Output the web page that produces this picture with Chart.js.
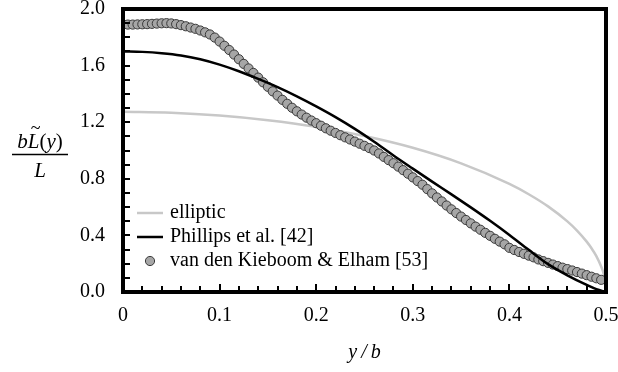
<!DOCTYPE html>
<html>
<head>
<meta charset="utf-8">
<script src="https://cdn.jsdelivr.net/npm/chart.js@4.4.0/dist/chart.umd.min.js"></script>
<style>
body { margin: 0; background: #fff; }
</style>
</head>
<body>
<canvas id="myChart" width="618" height="372"></canvas>
<script>
// spanwise position y/b and load values
let ellipticX = [0, 0.05, 0.1, 0.15, 0.2, 0.25, 0.3, 0.35, 0.4, 0.42, 0.44, 0.46, 0.47, 0.48, 0.485, 0.49, 0.495, 0.498, 0.5];
let ellipticY = [1.273, 1.267, 1.247, 1.214, 1.167, 1.102, 1.019, 0.909, 0.764, 0.691, 0.605, 0.499, 0.434, 0.356, 0.309, 0.254, 0.180, 0.114, 0];

let phillipsX = [0, 0.02, 0.04, 0.06, 0.08, 0.1, 0.12, 0.14, 0.16, 0.18, 0.2, 0.22, 0.24, 0.26, 0.28, 0.3, 0.32, 0.34, 0.36, 0.38, 0.4, 0.42, 0.44, 0.46, 0.48, 0.49, 0.5];
let phillipsY = [1.700, 1.697, 1.688, 1.672, 1.645, 1.607, 1.560, 1.506, 1.448, 1.383, 1.312, 1.236, 1.153, 1.062, 0.965, 0.872, 0.780, 0.690, 0.598, 0.503, 0.403, 0.298, 0.197, 0.118, 0.050, 0.020, 0];

let kieboomX = [0, 0.005, 0.01, 0.015, 0.02, 0.025, 0.03, 0.035, 0.04, 0.045, 0.05, 0.055, 0.06, 0.065, 0.07, 0.075, 0.08, 0.085, 0.09, 0.095,
  0.1, 0.105, 0.11, 0.115, 0.12, 0.125, 0.13, 0.135, 0.14, 0.145, 0.15, 0.155, 0.16, 0.165, 0.17, 0.175, 0.18, 0.185, 0.19, 0.195,
  0.2, 0.205, 0.21, 0.215, 0.22, 0.225, 0.23, 0.235, 0.24, 0.245, 0.25, 0.255, 0.26, 0.265, 0.27, 0.275, 0.28, 0.285, 0.29, 0.295,
  0.3, 0.305, 0.31, 0.315, 0.32, 0.325, 0.33, 0.335, 0.34, 0.345, 0.35, 0.355, 0.36, 0.365, 0.37, 0.375, 0.38, 0.385, 0.39, 0.395,
  0.4, 0.405, 0.41, 0.415, 0.42, 0.425, 0.43, 0.435, 0.44, 0.445, 0.45, 0.455, 0.46, 0.465, 0.47, 0.475, 0.48, 0.485, 0.49, 0.495];
let kieboomY = [1.890, 1.890, 1.890, 1.891, 1.892, 1.893, 1.895, 1.897, 1.899, 1.900, 1.898, 1.893, 1.886, 1.878, 1.869, 1.860, 1.848, 1.835, 1.820, 1.798,
  1.770, 1.740, 1.710, 1.678, 1.645, 1.612, 1.580, 1.548, 1.515, 1.482, 1.450, 1.418, 1.388, 1.358, 1.330, 1.302, 1.277, 1.254, 1.232, 1.212,
  1.193, 1.175, 1.157, 1.140, 1.124, 1.108, 1.093, 1.078, 1.063, 1.048, 1.033, 1.017, 1.000, 0.979, 0.955, 0.932, 0.910, 0.886, 0.861, 0.836,
  0.810, 0.784, 0.758, 0.727, 0.697, 0.668, 0.640, 0.611, 0.584, 0.558, 0.533, 0.509, 0.485, 0.462, 0.440, 0.418, 0.397, 0.376, 0.356, 0.337,
  0.312, 0.297, 0.283, 0.270, 0.257, 0.245, 0.230, 0.218, 0.206, 0.194, 0.183, 0.172, 0.162, 0.152, 0.141, 0.130, 0.119, 0.108, 0.097, 0.086];

let seriesNames = ["elliptic", "Phillips et al. [42]", "van den Kieboom & Elham [53]"];
let xTicks = [0, 0.1, 0.2, 0.3, 0.4, 0.5];
let yTicks = [0, 0.4, 0.8, 1.2, 1.6, 2.0];

const serif = '"Liberation Serif", "Times New Roman", serif';
const markerFill = '#a6a6a6';
const markerEdge = '#3a3a3a';

function pts(xs, ys) {
    return xs.map((x, i) => ({ x: x, y: ys[i] }));
}

// frame and inward ticks, drawn over the data like in the figure
const framePlugin = {
    id: 'frame',
    afterDatasetsDraw(chart) {
        const ctx = chart.ctx;
        const a = chart.chartArea;
        const xs = chart.scales.x, ys = chart.scales.y;
        ctx.save();
        ctx.strokeStyle = '#000';
        ctx.lineWidth = 2;
        ctx.beginPath();
        for (let i = 0; i <= 20; i++) {
            const py = Math.round(ys.getPixelForValue(i / 10));
            ctx.moveTo(a.left, py);
            ctx.lineTo(a.left + 7, py);
        }
        for (let i = 0; i <= 25; i++) {
            const px = Math.round(xs.getPixelForValue(i / 50));
            ctx.moveTo(px, a.bottom);
            ctx.lineTo(px, a.bottom - (i % 5 === 0 ? 8 : 6));
        }
        ctx.stroke();
        ctx.lineWidth = 4;
        ctx.strokeRect(a.left, a.top, a.right - a.left, a.bottom - a.top);
        ctx.restore();
    },
    afterDraw(chart) {
        const ctx = chart.ctx;
        const a = chart.chartArea;
        const ds = chart.data.datasets;
        ctx.save();
        // legend inside the plot, lower left
        ctx.font = '20px ' + serif;
        ctx.textBaseline = 'middle';
        ctx.fillStyle = '#000';
        const rows = [a.bottom - 79, a.bottom - 55, a.bottom - 31];
        const x0 = a.left + 14, x1 = a.left + 40, tx = a.left + 47;
        for (let i = 0; i < 3; i++) {
            const d = ds[i];
            if (d.showLine === false) {
                ctx.beginPath();
                ctx.arc((x0 + x1) / 2, rows[i], d.pointRadius, 0, Math.PI * 2);
                ctx.fillStyle = d.pointBackgroundColor;
                ctx.fill();
                ctx.lineWidth = d.pointBorderWidth;
                ctx.strokeStyle = d.pointBorderColor;
                ctx.stroke();
            } else {
                ctx.beginPath();
                ctx.moveTo(x0, rows[i]);
                ctx.lineTo(x1, rows[i]);
                ctx.lineWidth = d.borderWidth;
                ctx.strokeStyle = d.borderColor;
                ctx.stroke();
            }
            ctx.fillStyle = '#000';
            ctx.fillText(d.label, tx, rows[i]);
        }
        // y title as a fraction  b L~(y) / L
        const cx = 40, base = 148;
        const parts = [['b', 'italic '], ['L', 'italic '], ['(', ''], ['y', 'italic '], [')', '']];
        let w = 0;
        parts.forEach(p => { ctx.font = p[1] + '21px ' + serif; w += ctx.measureText(p[0]).width; });
        let x = cx - w / 2;
        ctx.textBaseline = 'alphabetic';
        ctx.textAlign = 'left';
        parts.forEach(p => {
            ctx.font = p[1] + '21px ' + serif;
            const pw = ctx.measureText(p[0]).width;
            ctx.fillText(p[0], x, base);
            if (p[0] === 'L') {
                ctx.font = '18px ' + serif;
                ctx.textAlign = 'center';
                ctx.fillText('~', x + pw / 2 + 2, base - 14);
                ctx.textAlign = 'left';
            }
            x += pw;
        });
        ctx.beginPath();
        ctx.moveTo(12, 154.5);
        ctx.lineTo(68, 154.5);
        ctx.lineWidth = 1.5;
        ctx.strokeStyle = '#000';
        ctx.stroke();
        ctx.font = 'italic 21px ' + serif;
        ctx.textAlign = 'center';
        ctx.fillText('L', cx, 177);
        ctx.restore();
    }
};

const ctx = document.getElementById('myChart').getContext('2d');
const myChart = new Chart(ctx, {
    type: 'scatter',
    data: {
        datasets: [{
            label: seriesNames[0],
            data: pts(ellipticX, ellipticY),
            showLine: true,
            borderColor: '#c8c8c8',
            borderWidth: 2.5,
            pointRadius: 0,
            cubicInterpolationMode: 'monotone',
            order: 3
        }, {
            label: seriesNames[1],
            data: pts(phillipsX, phillipsY),
            showLine: true,
            borderColor: '#000000',
            borderWidth: 2.5,
            pointRadius: 0,
            cubicInterpolationMode: 'monotone',
            order: 1
        }, {
            label: seriesNames[2],
            data: pts(kieboomX, kieboomY),
            showLine: false,
            pointRadius: 4.6,
            pointBackgroundColor: markerFill,
            pointBorderColor: markerEdge,
            pointBorderWidth: 1,
            order: 2
        }]
    },
    options: {
        responsive: false,
        animation: false,
        devicePixelRatio: 1,
        events: [],
        plugins: { legend: { display: false }, tooltip: { enabled: false } },
        scales: {
            x: {
                type: 'linear',
                min: 0,
                max: 0.5,
                afterBuildTicks: s => { s.ticks = xTicks.map(v => ({ value: v })); },
                afterFit: s => { s.height = 80; s.paddingLeft = 0; s.paddingRight = 12; },
                ticks: {
                    padding: 12,
                    color: '#000',
                    font: { family: serif, size: 20 },
                    callback: v => v === 0 ? '0' : v.toFixed(1)
                },
                grid: { display: false, drawTicks: false },
                border: { display: false },
                title: {
                    display: true,
                    text: 'y\u2009/\u2009b',
                    color: '#000',
                    font: { family: serif, size: 20, style: 'italic' },
                    padding: { top: 0, bottom: 7 }
                }
            },
            y: {
                min: 0,
                max: 2,
                afterBuildTicks: s => { s.ticks = yTicks.map(v => ({ value: v })); },
                afterFit: s => { s.width = 123; s.paddingTop = 9; s.paddingBottom = 0; },
                ticks: {
                    padding: 18,
                    color: '#000',
                    font: { family: serif, size: 20 },
                    callback: v => v.toFixed(1)
                },
                grid: { display: false, drawTicks: false },
                border: { display: false }
            }
        }
    },
    plugins: [framePlugin]
});
</script>
</body>
</html>
